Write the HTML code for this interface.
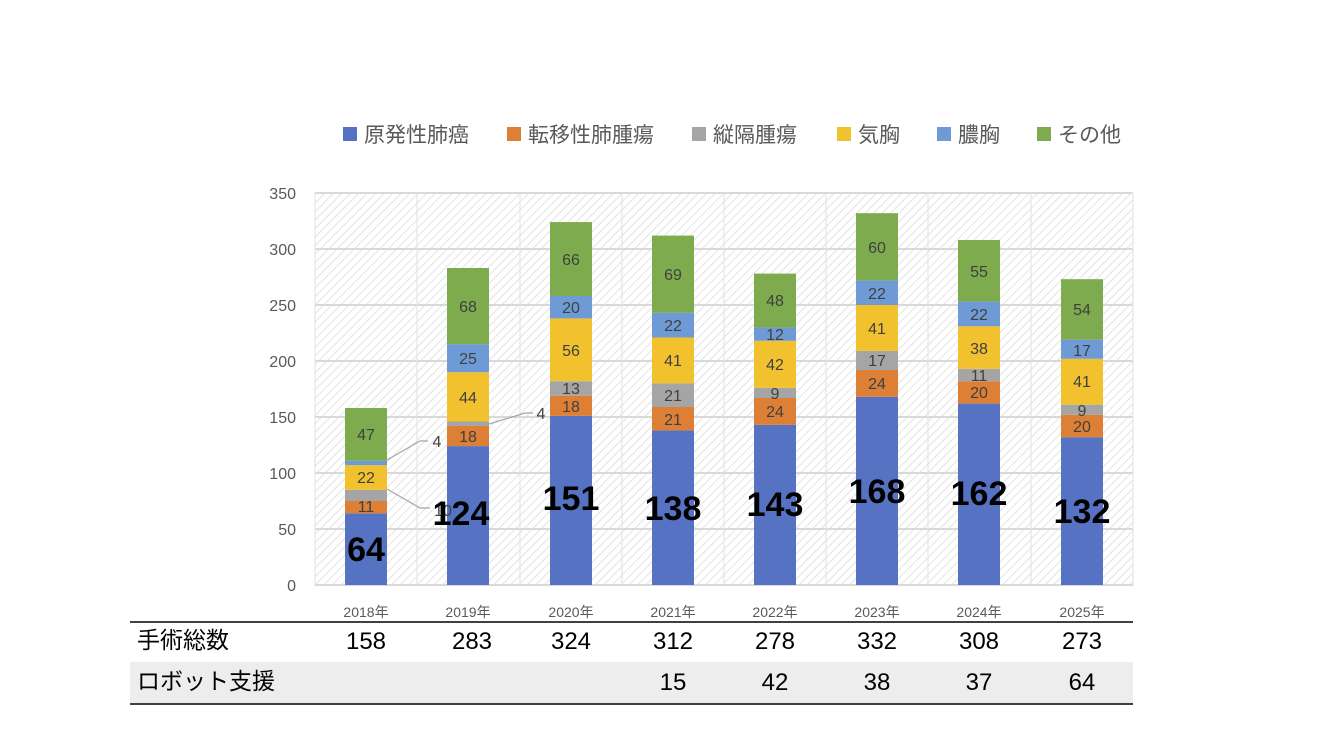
<!DOCTYPE html>
<html><head><meta charset="utf-8"><style>
body{margin:0;background:#fff}
svg{display:block;font-family:"Liberation Sans","Noto Sans CJK JP",sans-serif}
</style></head><body>
<svg width="1333" height="750" viewBox="0 0 1333 750">
<defs>
<pattern id="h" width="6" height="6" patternUnits="userSpaceOnUse" patternTransform="rotate(45)">
<rect width="6" height="6" fill="#fff"/><line x1="0" y1="0" x2="0" y2="6" stroke="#dcdcdc" stroke-width="1.6"/>
</pattern>
</defs>
<rect x="315" y="193" width="818" height="392" fill="url(#h)"/>
<g stroke="#d9d9d9" stroke-width="2">
<line x1="315" y1="529" x2="1133" y2="529"/><line x1="315" y1="473" x2="1133" y2="473"/>
<line x1="315" y1="417" x2="1133" y2="417"/><line x1="315" y1="361" x2="1133" y2="361"/>
<line x1="315" y1="305" x2="1133" y2="305"/><line x1="315" y1="249" x2="1133" y2="249"/>
<line x1="315" y1="193" x2="1133" y2="193"/>
</g>
<g stroke="#e2e2e2" stroke-width="1">
<line x1="315" y1="193" x2="315" y2="585"/><line x1="417" y1="193" x2="417" y2="585"/>
<line x1="520" y1="193" x2="520" y2="585"/><line x1="622" y1="193" x2="622" y2="585"/>
<line x1="724" y1="193" x2="724" y2="585"/><line x1="826" y1="193" x2="826" y2="585"/>
<line x1="928" y1="193" x2="928" y2="585"/><line x1="1031" y1="193" x2="1031" y2="585"/>
<line x1="1133" y1="193" x2="1133" y2="585"/>
</g>
<line x1="315" y1="585" x2="1133" y2="585" stroke="#d9d9d9" stroke-width="2"/>
<g font-size="16" fill="#595959" text-anchor="end">
<text x="296" y="591">0</text><text x="296" y="535">50</text><text x="296" y="479">100</text>
<text x="296" y="423">150</text><text x="296" y="367">200</text><text x="296" y="311">250</text>
<text x="296" y="255">300</text><text x="296" y="199">350</text>
</g>
<g>
<rect x="345" y="513.3" width="42" height="71.7" fill="#5572C3"/><rect x="345" y="501" width="42" height="12.3" fill="#DD7F35"/><rect x="345" y="489.8" width="42" height="11.2" fill="#A5A5A5"/><rect x="345" y="465.2" width="42" height="24.6" fill="#F2C12E"/><rect x="345" y="460.7" width="42" height="4.5" fill="#6E9BD6"/><rect x="345" y="408" width="42" height="52.7" fill="#7DAB4D"/>
<rect x="447" y="446.1" width="42" height="138.9" fill="#5572C3"/><rect x="447" y="426" width="42" height="20.1" fill="#DD7F35"/><rect x="447" y="421.5" width="42" height="4.5" fill="#A5A5A5"/><rect x="447" y="372.2" width="42" height="49.3" fill="#F2C12E"/><rect x="447" y="344.2" width="42" height="28" fill="#6E9BD6"/><rect x="447" y="268" width="42" height="76.2" fill="#7DAB4D"/>
<rect x="550" y="415.9" width="42" height="169.1" fill="#5572C3"/><rect x="550" y="395.7" width="42" height="20.2" fill="#DD7F35"/><rect x="550" y="381.2" width="42" height="14.5" fill="#A5A5A5"/><rect x="550" y="318.4" width="42" height="62.8" fill="#F2C12E"/><rect x="550" y="296" width="42" height="22.4" fill="#6E9BD6"/><rect x="550" y="222.1" width="42" height="73.9" fill="#7DAB4D"/>
<rect x="652" y="430.4" width="42" height="154.6" fill="#5572C3"/><rect x="652" y="407" width="42" height="23.4" fill="#DD7F35"/><rect x="652" y="383.4" width="42" height="23.6" fill="#A5A5A5"/><rect x="652" y="337.5" width="42" height="45.9" fill="#F2C12E"/><rect x="652" y="312.8" width="42" height="24.7" fill="#6E9BD6"/><rect x="652" y="235.6" width="42" height="77.2" fill="#7DAB4D"/>
<rect x="754" y="424.8" width="42" height="160.2" fill="#5572C3"/><rect x="754" y="398" width="42" height="26.8" fill="#DD7F35"/><rect x="754" y="387.9" width="42" height="10.1" fill="#A5A5A5"/><rect x="754" y="340.8" width="42" height="47.1" fill="#F2C12E"/><rect x="754" y="327.4" width="42" height="13.4" fill="#6E9BD6"/><rect x="754" y="273.6" width="42" height="53.8" fill="#7DAB4D"/>
<rect x="856" y="396.8" width="42" height="188.2" fill="#5572C3"/><rect x="856" y="370" width="42" height="26.8" fill="#DD7F35"/><rect x="856" y="350.9" width="42" height="19.1" fill="#A5A5A5"/><rect x="856" y="305" width="42" height="45.9" fill="#F2C12E"/><rect x="856" y="280.4" width="42" height="24.6" fill="#6E9BD6"/><rect x="856" y="213.2" width="42" height="67.2" fill="#7DAB4D"/>
<rect x="958" y="403.6" width="42" height="181.4" fill="#5572C3"/><rect x="958" y="381.2" width="42" height="22.4" fill="#DD7F35"/><rect x="958" y="368.8" width="42" height="12.4" fill="#A5A5A5"/><rect x="958" y="326.3" width="42" height="42.5" fill="#F2C12E"/><rect x="958" y="301.6" width="42" height="24.7" fill="#6E9BD6"/><rect x="958" y="240" width="42" height="61.6" fill="#7DAB4D"/>
<rect x="1061" y="437.2" width="42" height="147.8" fill="#5572C3"/><rect x="1061" y="414.8" width="42" height="22.4" fill="#DD7F35"/><rect x="1061" y="404.7" width="42" height="10.1" fill="#A5A5A5"/><rect x="1061" y="358.8" width="42" height="45.9" fill="#F2C12E"/><rect x="1061" y="339.7" width="42" height="19.1" fill="#6E9BD6"/><rect x="1061" y="279.2" width="42" height="60.5" fill="#7DAB4D"/>
</g>
<g stroke="#a5a5a5" stroke-width="1.2" fill="none">
<polyline points="387,460 420,441 428,441"/>
<polyline points="387,489 420,508 430,508"/>
<polyline points="489,424 525,413 533,413"/>
</g>
<g font-size="16" fill="#404040" text-anchor="middle">
<text x="366" y="512">11</text><text x="366" y="483">22</text><text x="366" y="440">47</text>
<text x="437" y="447">4</text><text x="443" y="516">10</text>
<text x="468" y="442">18</text><text x="468" y="403">44</text><text x="468" y="364">25</text><text x="468" y="312">68</text>
<text x="541" y="419">4</text>
<text x="571" y="412">18</text><text x="571" y="394">13</text><text x="571" y="356">56</text><text x="571" y="313">20</text><text x="571" y="265">66</text>
<text x="673" y="425">21</text><text x="673" y="401">21</text><text x="673" y="366">41</text><text x="673" y="331">22</text><text x="673" y="280">69</text>
<text x="775" y="417">24</text><text x="775" y="399">9</text><text x="775" y="370">42</text><text x="775" y="340">12</text><text x="775" y="306">48</text>
<text x="877" y="389">24</text><text x="877" y="366">17</text><text x="877" y="334">41</text><text x="877" y="299">22</text><text x="877" y="253">60</text>
<text x="979" y="398">20</text><text x="979" y="381">11</text><text x="979" y="354">38</text><text x="979" y="320">22</text><text x="979" y="277">55</text>
<text x="1082" y="432">20</text><text x="1082" y="416">9</text><text x="1082" y="387">41</text><text x="1082" y="356">17</text><text x="1082" y="315">54</text>
</g>
<g font-size="34" font-weight="bold" fill="#000" text-anchor="middle">
<text x="366" y="561">64</text><text x="461" y="525">124</text><text x="571" y="510">151</text>
<text x="673" y="520">138</text><text x="775" y="516">143</text><text x="877" y="503">168</text>
<text x="979" y="505">162</text><text x="1082" y="523">132</text>
</g>
<g font-size="14" fill="#595959" text-anchor="middle">
<text x="366" y="617">2018年</text><text x="468" y="617">2019年</text><text x="571" y="617">2020年</text>
<text x="673" y="617">2021年</text><text x="775" y="617">2022年</text><text x="877" y="617">2023年</text>
<text x="979" y="617">2024年</text><text x="1082" y="617">2025年</text>
</g>
<g font-size="21" fill="#595959">
<rect x="343" y="127" width="14" height="14" fill="#5572C3"/><text x="364" y="142">原発性肺癌</text>
<rect x="507" y="127" width="14" height="14" fill="#DD7F35"/><text x="528" y="142">転移性肺腫瘍</text>
<rect x="692" y="127" width="14" height="14" fill="#A5A5A5"/><text x="713" y="142">縦隔腫瘍</text>
<rect x="837" y="127" width="14" height="14" fill="#F2C12E"/><text x="858" y="142">気胸</text>
<rect x="937" y="127" width="14" height="14" fill="#6E9BD6"/><text x="958" y="142">膿胸</text>
<rect x="1037" y="127" width="14" height="14" fill="#7DAB4D"/><text x="1058" y="142">その他</text>
</g>
<rect x="130" y="662" width="1003" height="41" fill="#ededed"/>
<line x1="130" y1="622" x2="1133" y2="622" stroke="#000" stroke-width="1.5"/>
<line x1="130" y1="704" x2="1133" y2="704" stroke="#000" stroke-width="1.5"/>
<g font-size="23" fill="#000">
<text x="137" y="648">手術総数</text><text x="137" y="689">ロボット支援</text>
</g>
<g font-size="24" fill="#000" text-anchor="middle">
<text x="366" y="649">158</text><text x="472" y="649">283</text><text x="571" y="649">324</text>
<text x="673" y="649">312</text><text x="775" y="649">278</text><text x="877" y="649">332</text>
<text x="979" y="649">308</text><text x="1082" y="649">273</text>
<text x="673" y="690">15</text><text x="775" y="690">42</text><text x="877" y="690">38</text>
<text x="979" y="690">37</text><text x="1082" y="690">64</text>
</g>
</svg>
</body></html>
